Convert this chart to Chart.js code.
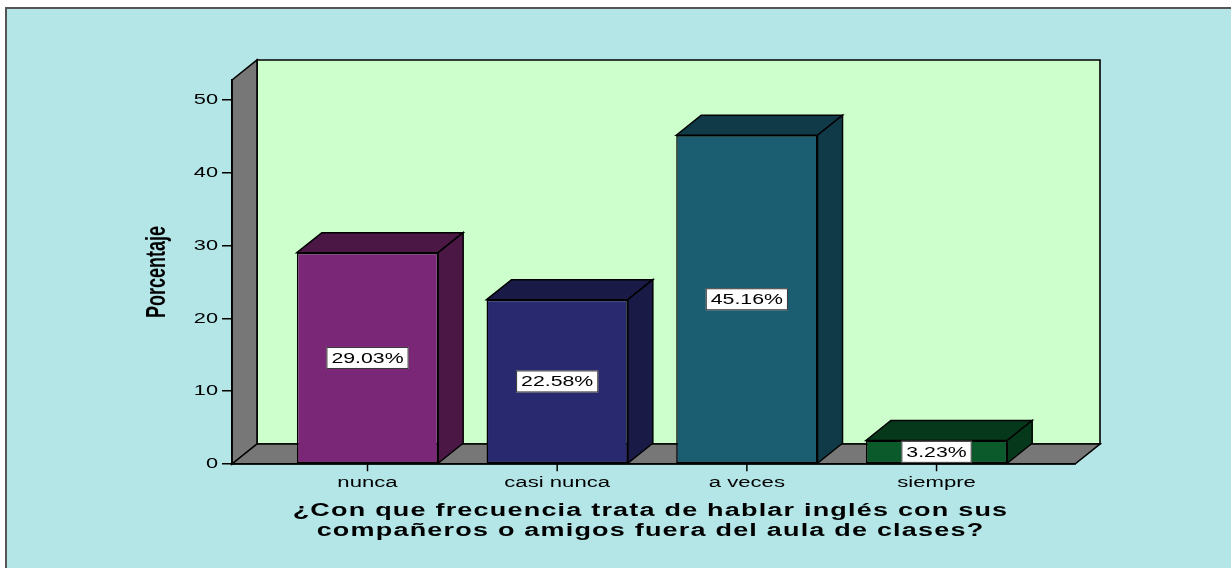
<!DOCTYPE html>
<html>
<head>
<meta charset="utf-8">
<script src="https://cdn.jsdelivr.net/npm/chart.js@4.4.1/dist/chart.umd.min.js"></script>
<style>
  html, body { margin: 0; padding: 0; background: #fff; overflow: hidden; }
  #panel {
    position: absolute; left: 5px; top: 7px; width: 1400px; height: 700px;
    background: #b4e6e8; border-left: 2px solid #555; border-top: 2px solid #555;
  }
  #chart { position: absolute; left: 0; top: 0; }
</style>
</head>
<body>
<div id="panel"></div>
<canvas id="chart" width="1231" height="568"></canvas>
<script>
// Datos del gráfico
const categories = ['nunca', 'casi nunca', 'a veces', 'siempre'];
const percentages = [29.03, 22.58, 45.16, 3.23];
const valueLabels = ['29.03%', '22.58%', '45.16%', '3.23%'];
const yTicks = [0, 10, 20, 30, 40, 50];
const yTitle = 'Porcentaje';
const xTitle = ['¿Con que frecuencia trata de hablar inglés con sus', 'compañeros o amigos fuera del aula de clases?'];

// Colores
const frontColors = ['#7b2777', '#292970', '#1b5e72', '#0a5a2c'];
const darkColors = ['#4b1846', '#1a1a46', '#103a47', '#06381c'];
const DX = 25, DY = -20;
const FONT = "'Liberation Sans', Arial, sans-serif";

// texto estirado horizontalmente (como en la imagen original)
function stretchText(ctx, text, x, y, font, sx, align, spacing) {
  ctx.save();
  ctx.font = font;
  ctx.letterSpacing = (spacing || 0) + 'px';
  ctx.textAlign = align;
  ctx.textBaseline = 'middle';
  ctx.fillStyle = '#000';
  ctx.translate(x, y);
  ctx.scale(sx, 1);
  ctx.fillText(text, 0, 0);
  ctx.restore();
}

function poly(ctx, pts, fill) {
  ctx.beginPath();
  ctx.moveTo(pts[0][0], pts[0][1]);
  for (let i = 1; i < pts.length; i++) ctx.lineTo(pts[i][0], pts[i][1]);
  ctx.closePath();
  ctx.fillStyle = fill;
  ctx.fill();
  ctx.stroke();
}

const box3d = {
  id: 'box3d',
  beforeDraw(chart) {
    const { ctx, chartArea: a } = chart;
    ctx.save();
    ctx.strokeStyle = '#000';
    ctx.lineWidth = 1.6;
    // pared del fondo
    poly(ctx, [[a.left + DX, a.top + DY], [a.right + DX, a.top + DY], [a.right + DX, a.bottom + DY], [a.left + DX, a.bottom + DY]], '#ccffcc');
    // pared izquierda
    poly(ctx, [[a.left, a.top], [a.left + DX, a.top + DY], [a.left + DX, a.bottom + DY], [a.left, a.bottom]], '#777777');
    // piso
    poly(ctx, [[a.left, a.bottom], [a.left + DX, a.bottom + DY], [a.right + DX, a.bottom + DY], [a.right, a.bottom]], '#777777');
    ctx.restore();
  },
  afterDatasetsDraw(chart) {
    const ctx = chart.ctx;
    const bars = chart.getDatasetMeta(0).data;
    ctx.save();
    ctx.strokeStyle = '#000';
    ctx.lineWidth = 1.5;
    bars.forEach((bar, i) => {
      const l = bar.x - bar.width / 2, r = bar.x + bar.width / 2;
      // cara superior
      poly(ctx, [[l, bar.y], [l + DX, bar.y + DY], [r + DX, bar.y + DY], [r, bar.y]], darkColors[i]);
      // cara lateral
      poly(ctx, [[r, bar.y], [r + DX, bar.y + DY], [r + DX, bar.base + DY], [r, bar.base]], darkColors[i]);
      // marca del eje X
      ctx.beginPath();
      ctx.moveTo(bar.x, bar.base);
      ctx.lineTo(bar.x, bar.base + 8);
      ctx.stroke();
    });
    // etiquetas de valor
    bars.forEach((bar, i) => {
      const cy = (bar.y + bar.base) / 2;
      const sx = 1.52;
      ctx.font = '14px ' + FONT;
      ctx.letterSpacing = '0px';
      const w = ctx.measureText(valueLabels[i]).width * sx + 10;
      ctx.fillStyle = '#fff';
      ctx.lineWidth = 1;
      ctx.fillRect(bar.x - w / 2, cy - 11, w, 22);
      ctx.strokeStyle = '#333';
      ctx.strokeRect(bar.x - w / 2 + 0.5, cy - 10.5, w - 1, 21);
      stretchText(ctx, valueLabels[i], bar.x, cy + 1, '14px ' + FONT, sx, 'center');
    });
    ctx.restore();
  },
  afterDraw(chart) {
    const ctx = chart.ctx;
    const xs = chart.scales.x, ys = chart.scales.y;
    // etiquetas eje Y
    yTicks.forEach(v => {
      stretchText(ctx, String(v), ys.right - 14, ys.getPixelForValue(v), '15px ' + FONT, 1.45, 'right');
    });
    // etiquetas de categorías
    categories.forEach((c, i) => {
      stretchText(ctx, c, xs.getPixelForValue(i), 483, '14px ' + FONT, 1.58, 'center');
    });
    // título eje X
    const cx = (chart.chartArea.left + chart.chartArea.right) / 2 - 3;
    xTitle.forEach((line, k) => {
      stretchText(ctx, line, cx, 511 + k * 20, 'bold 18px ' + FONT, 1.5, 'center', 0.8);
    });
    // título eje Y (rotado)
    ctx.save();
    ctx.translate(158, (chart.chartArea.top + chart.chartArea.bottom) / 2);
    ctx.scale(1.5, 1);
    ctx.rotate(-Math.PI / 2);
    ctx.font = 'bold 18px ' + FONT;
    ctx.textAlign = 'center';
    ctx.textBaseline = 'middle';
    ctx.fillStyle = '#000';
    ctx.fillText(yTitle, 0, 0);
    ctx.restore();
  }
};

new Chart(document.getElementById('chart'), {
  type: 'bar',
  data: {
    datasets: [{
      data: percentages.map((v, i) => ({ x: i, y: v })),
      backgroundColor: frontColors,
      borderColor: '#000',
      borderWidth: 1.5,
      borderSkipped: false,
      categoryPercentage: 1,
      barPercentage: 0.745
    }]
  },
  options: {
    responsive: false,
    devicePixelRatio: 1,
    animation: false,
    layout: { padding: { left: 140, top: 80, right: 156, bottom: 0 } },
    plugins: { legend: { display: false }, tooltip: { enabled: false } },
    scales: {
      x: {
        type: 'linear',
        offset: false,
        min: -0.7144,
        max: 3.73,
        afterBuildTicks: s => { s.ticks = categories.map((c, i) => ({ value: i })); },
        afterFit: s => { s.height = 104; },
        ticks: { display: false },
        grid: { offset: false, drawOnChartArea: false, drawTicks: false },
        border: { display: true, color: '#000', width: 1.6 }
      },
      y: {
        min: 0,
        max: 52.75,
        afterBuildTicks: s => { s.ticks = yTicks.map(v => ({ value: v })); },
        afterFit: s => { s.width = 92; },
        ticks: { display: false },
        grid: { drawOnChartArea: false, drawTicks: true, tickLength: 10, color: '#000', lineWidth: 1.5 },
        border: { display: true, color: '#000', width: 1.6 }
      }
    }
  },
  plugins: [box3d]
});
</script>
</body>
</html>
